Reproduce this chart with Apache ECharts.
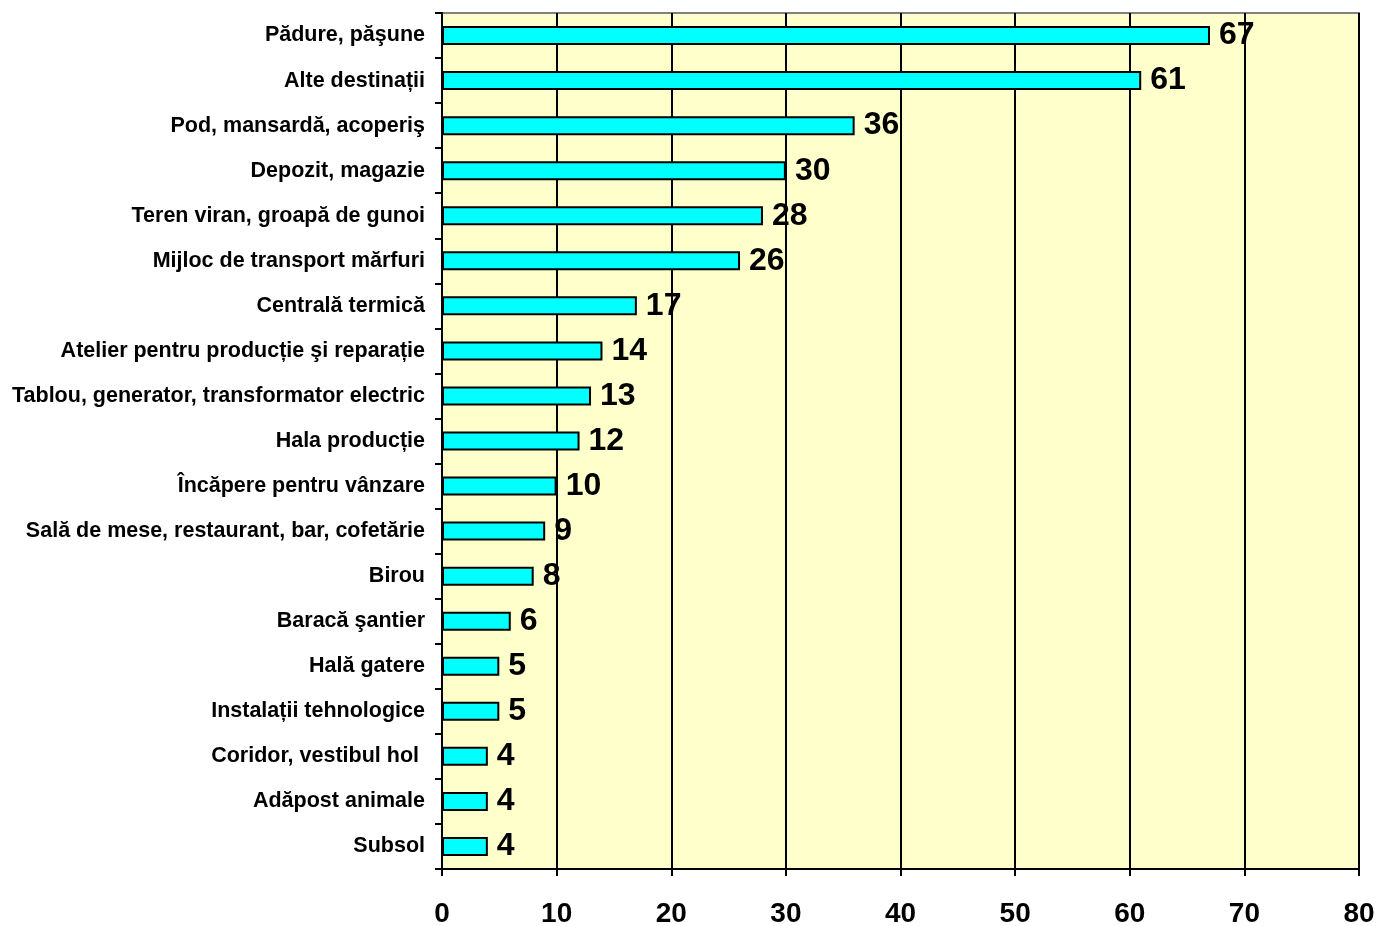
<!DOCTYPE html>
<html><head><meta charset="utf-8">
<script src="https://cdn.jsdelivr.net/npm/echarts@6/dist/echarts.min.js"></script>
<style>html,body{margin:0;padding:0;background:#fff}#c{width:1378px;height:926px}</style>
</head><body><div id="c"></div>
<script>
const categories = ["Pădure, păşune","Alte destinații","Pod, mansardă, acoperiş","Depozit, magazie","Teren viran, groapă de gunoi","Mijloc de transport mărfuri","Centrală termică","Atelier pentru producție şi reparație","Tablou, generator, transformator electric","Hala producție","Încăpere pentru vânzare","Sală de mese, restaurant, bar, cofetărie","Birou","Baracă şantier","Hală gatere","Instalații tehnologice","Coridor, vestibul hol ","Adăpost animale","Subsol"];
const values = [67,61,36,30,28,26,17,14,13,12,10,9,8,6,5,5,4,4,4];
const xTicks = {min:0,max:80,interval:10};
const font = 'Arial, "Liberation Sans", sans-serif';
const chart = echarts.init(document.getElementById('c'));
chart.setOption({
  animation:false,
  grid:{left:442,right:19,top:13,bottom:57,containLabel:false,outerBoundsMode:'none',show:true,backgroundColor:'#FFFFCC',borderColor:'#808080',borderWidth:2},
  xAxis:{type:'value',min:xTicks.min,max:xTicks.max,interval:xTicks.interval,
    axisLine:{show:true,lineStyle:{color:'#000',width:2}},
    axisTick:{show:true,length:7,lineStyle:{color:'#000',width:2}},
    splitLine:{show:true,lineStyle:{color:'#000',width:2}},
    axisLabel:{color:'#000',fontFamily:font,fontWeight:'bold',fontSize:28,margin:31}},
  yAxis:{type:'category',data:categories,inverse:true,
    axisLine:{show:true,lineStyle:{color:'#000',width:2}},
    axisTick:{show:true,length:7,lineStyle:{color:'#000',width:2}},
    axisLabel:{color:'#000',fontFamily:font,fontWeight:'bold',fontSize:21.5,margin:17,padding:[3,0,0,0]}},
  series:[{type:'bar',data:values,barWidth:19,
    itemStyle:{color:'#00FFFF',borderColor:'#000',borderWidth:2},
    label:{show:true,position:'right',distance:9,color:'#000',fontFamily:font,fontWeight:'bold',fontSize:32,padding:[4,0,0,0]}}]
});
</script></body></html>
